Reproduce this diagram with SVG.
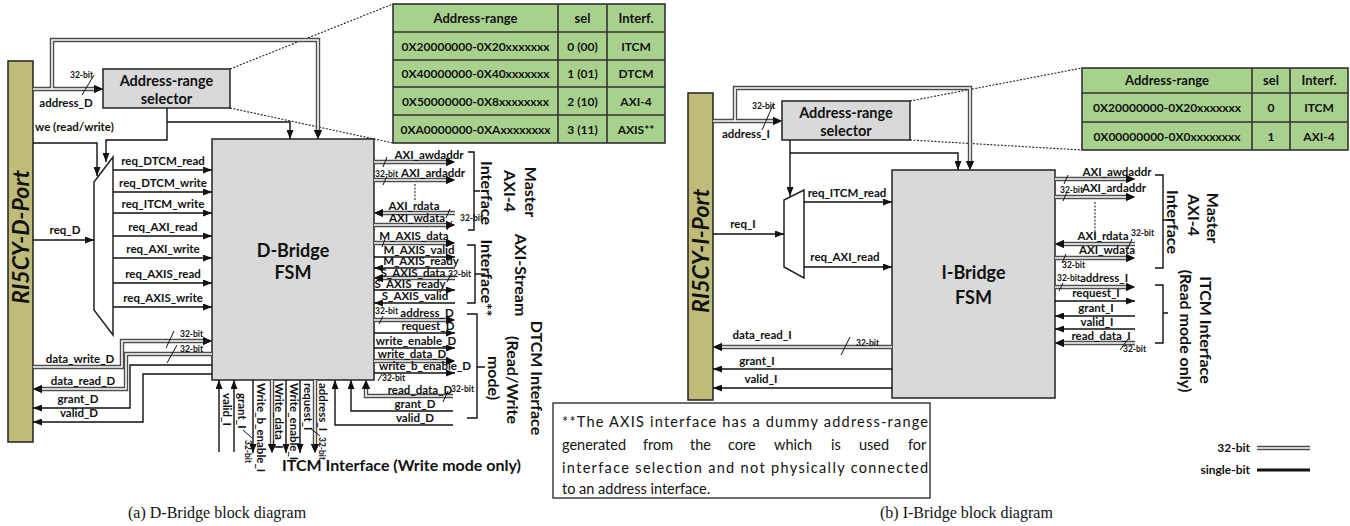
<svg xmlns="http://www.w3.org/2000/svg" width="1350" height="526" viewBox="0 0 1350 526">
<style>
  .w{fill:none;stroke:#111;stroke-width:1.4}
  .bo{fill:none;stroke:#4d4d4d;stroke-width:4.4}
  .bi{fill:none;stroke:#fff;stroke-width:1.6}
  .dot{fill:none;stroke:#222;stroke-width:1.1;stroke-dasharray:2 1.5}
  .sl{fill:none;stroke:#111;stroke-width:1}
  .box{fill:#d9d9d9;stroke:#222;stroke-width:1.5}
  .port{fill:#bebc78;stroke:#222;stroke-width:1.5}
  .mux{fill:#fff;stroke:#222;stroke-width:1.5}
  .tab{fill:#a9d18e;stroke:#333;stroke-width:1.6}
  .tl{fill:none;stroke:#333;stroke-width:1.6}
  text{font-family:Lato,"Liberation Sans",sans-serif;font-weight:700;fill:#111}
  .l{font-size:11.5px}
  .m{text-anchor:middle}
  .s{font-size:8.5px}
  .h{font-size:14.5px}
  .f{font-size:18px}
  .p{font-size:23px;font-style:italic}
  .g{font-size:16px}
  .tb{font-size:12px}
  .th{font-size:13px}
  .n{font-weight:400;font-size:14.5px}
  .c{font-family:"Liberation Serif",serif;font-weight:400;font-size:16px}
</style>
<defs>
  <marker id="a" markerUnits="userSpaceOnUse" markerWidth="9" markerHeight="7" refX="9" refY="3.5" orient="auto"><path d="M0,0 L9,3.5 L0,7 z" fill="#111"/></marker>
  <marker id="ab" markerUnits="userSpaceOnUse" markerWidth="9" markerHeight="8" refX="0" refY="4" orient="auto"><path d="M0,0 L9,4 L0,8 z" fill="#111"/></marker>
  <!-- 32-bit buses: drawn twice (dark outer, white core) to give a double line -->
  <g id="buses">
    <path d="M33,89 H94" marker-end="url(#ab)"/>
    <path d="M52,89 V40 H318 V130" marker-end="url(#ab)"/>
    <path d="M33,367 H122 V341 H203" marker-end="url(#ab)"/>
    <path d="M212,354 H126 V389 H42" marker-end="url(#ab)"/>
    <path d="M374,162 H446" marker-end="url(#ab)"/>
    <path d="M374,180 H446" marker-end="url(#ab)"/>
    <path d="M455,213 H383" marker-end="url(#ab)"/>
    <path d="M374,225 H446" marker-end="url(#ab)"/>
    <path d="M374,243 H446" marker-end="url(#ab)"/>
    <path d="M455,278 H383" marker-end="url(#ab)"/>
    <path d="M374,320 H446" marker-end="url(#ab)"/>
    <path d="M374,361 H446" marker-end="url(#ab)"/>
    <path d="M453,396 H366 V389" marker-end="url(#ab)"/>
    <path d="M272,380 V444" marker-end="url(#ab)"/>
    <path d="M315,380 V444" marker-end="url(#ab)"/>
    <path d="M713,121 H773" marker-end="url(#ab)"/>
    <path d="M735,121 V88 H970 V161" marker-end="url(#ab)"/>
    <path d="M892,347 H722" marker-end="url(#ab)"/>
    <path d="M1055,179 H1126" marker-end="url(#ab)"/>
    <path d="M1055,197 H1126" marker-end="url(#ab)"/>
    <path d="M1135,244 H1064" marker-end="url(#ab)"/>
    <path d="M1055,258 H1126" marker-end="url(#ab)"/>
    <path d="M1055,287 H1126" marker-end="url(#ab)"/>
    <path d="M1135,343 H1064" marker-end="url(#ab)"/>
    <path d="M1257,448 H1310"/>
  </g>
</defs>
<rect width="1350" height="526" fill="#fff"/>

<!-- dotted call-outs from the selectors to their tables -->
<g id="callouts">
  <path class="dot" d="M230,69 L393,4 M230,108 L393,143"/>
  <path class="dot" d="M910,101 L1082,68 M910,140 L1082,150"/>
</g>

<!-- ===== D-Bridge ===== -->
<g id="d-port">
  <rect class="port" x="8" y="61" width="25" height="381"/>
  <text class="p m" transform="translate(29,237) rotate(-90)">RI5CY-D-Port</text>
</g>
<g id="d-selector">
  <rect class="box" x="103" y="69" width="127" height="39"/>
  <text class="h m" x="166.5" y="86">Address-range</text>
  <text class="h m" x="166.5" y="104">selector</text>
</g>
<g id="d-mux">
  <polygon class="mux" points="94,182 113,157 113,335 94,310"/>
</g>
<g id="d-fsm">
  <rect class="box" x="212" y="139" width="162" height="241"/>
  <text class="f m" x="293" y="257">D-Bridge</text>
  <text class="f m" x="293" y="279">FSM</text>
</g>
<g id="d-table">
  <rect class="tab" x="393" y="4" width="272" height="139"/>
  <path class="tl" d="M393,32 H665 M393,60 H665 M393,87 H665 M393,115 H665 M558,4 V143 M607,4 V143"/>
  <text class="th m" x="475.5" y="23">Address-range</text>
  <text class="th m" x="582.5" y="23">sel</text>
  <text class="th m" x="636" y="23">Interf.</text>
  <text class="tb m" x="475.5" y="51">0X20000000-0X20xxxxxxx</text>
  <text class="tb m" x="582.5" y="51">0 (00)</text>
  <text class="tb m" x="636" y="51">ITCM</text>
  <text class="tb m" x="475.5" y="78">0X40000000-0X40xxxxxxx</text>
  <text class="tb m" x="582.5" y="78">1 (01)</text>
  <text class="tb m" x="636" y="78">DTCM</text>
  <text class="tb m" x="475.5" y="106">0X50000000-0X8xxxxxxxx</text>
  <text class="tb m" x="582.5" y="106">2 (10)</text>
  <text class="tb m" x="636" y="106">AXI-4</text>
  <text class="tb m" x="475.5" y="134">0XA0000000-0XAxxxxxxxx</text>
  <text class="tb m" x="582.5" y="134">3 (11)</text>
  <text class="tb m" x="636" y="134">AXIS**</text>
</g>

<!-- ===== I-Bridge ===== -->
<g id="i-port">
  <rect class="port" x="688" y="93" width="25" height="307"/>
  <text class="p m" transform="translate(709,251) rotate(-90)">RI5CY-I-Port</text>
</g>
<g id="i-selector">
  <rect class="box" x="782" y="101" width="128" height="39"/>
  <text class="h m" x="846" y="118">Address-range</text>
  <text class="h m" x="846" y="136">selector</text>
</g>
<g id="i-mux">
  <polygon class="mux" points="784,200 804,190 804,278 784,267"/>
</g>
<g id="i-fsm">
  <rect class="box" x="892" y="170" width="163" height="228"/>
  <text class="f m" x="973.5" y="279">I-Bridge</text>
  <text class="f m" x="973.5" y="304">FSM</text>
</g>
<g id="i-table">
  <rect class="tab" x="1082" y="68" width="266" height="82"/>
  <path class="tl" d="M1082,93 H1348 M1082,122 H1348 M1252,68 V150 M1290,68 V150"/>
  <text class="th m" x="1167" y="85">Address-range</text>
  <text class="th m" x="1271" y="85">sel</text>
  <text class="th m" x="1319" y="85">Interf.</text>
  <text class="tb m" x="1167" y="112">0X20000000-0X20xxxxxxx</text>
  <text class="tb m" x="1271" y="112">0</text>
  <text class="tb m" x="1319" y="112">ITCM</text>
  <text class="tb m" x="1167" y="141">0X00000000-0X0xxxxxxxx</text>
  <text class="tb m" x="1271" y="141">1</text>
  <text class="tb m" x="1319" y="141">AXI-4</text>
</g>

<!-- ===== connectors ===== -->
<g id="connectors">
  <use href="#buses" class="bo"/>
  <use href="#buses" class="bi"/>
  <g class="w" marker-end="url(#a)">
    <!-- D-Bridge single-bit -->
    <path d="M33,143 H97 V176"/>
    <path d="M167,108 V140 H106 V162"/>
    <path d="M167,122 H290 V139"/>
    <path d="M33,240 H94"/>
    <path d="M113,170 H212"/>
    <path d="M113,192 H212"/>
    <path d="M113,213 H212"/>
    <path d="M113,236 H212"/>
    <path d="M113,258 H212"/>
    <path d="M113,283 H212"/>
    <path d="M113,307 H212"/>
    <path d="M212,365 H130 V408 H33"/>
    <path d="M212,374 H143 V422 H33"/>
    <path d="M374,257 H455"/>
    <path d="M455,268 H374"/>
    <path d="M374,290 H455"/>
    <path d="M455,303 H374"/>
    <path d="M374,333 H455"/>
    <path d="M374,348 H455"/>
    <path d="M374,373 H455"/>
    <path d="M453,411 H351 V380"/>
    <path d="M453,425 H335 V380"/>
    <path d="M219,452 V380"/>
    <path d="M234,452 V380"/>
    <path d="M253,380 V453"/>
    <path d="M286,380 V453"/>
    <path d="M300,380 V453"/>
    <!-- I-Bridge single-bit -->
    <path d="M790,140 V196"/>
    <path d="M790,153 H958 V170"/>
    <path d="M713,234 H784"/>
    <path d="M804,202 H892"/>
    <path d="M804,267 H892"/>
    <path d="M892,369 H713"/>
    <path d="M892,388 H713"/>
    <path d="M1055,301 H1135"/>
    <path d="M1135,316 H1055"/>
    <path d="M1135,329 H1055"/>
  </g>
  <path class="dot" d="M415,184 V200 M1095,202 V238"/>
  <!-- bus width slashes -->
  <path class="sl" d="M94,75 L82,95 M174,331 L166,348 M177,345 L167,363 M387,157 L383,167 M387,176 L383,185 M450,209 L446,218 M452,221 L447,230 M385,239 L382,247 M451,274 L447,282 M383,316 L379,324 M382,374 L378,381 M448,391 L443,402 M243,430 L252,438 M310,428 L320,436"/>
  <path class="sl" d="M773,105 L762,130 M850,337 L841,355 M1068,175 L1064,184 M1067,192 L1063,201 M1132,239 L1128,248 M1066,254 L1062,263 M1063,283 L1059,291 M1128,339 L1120,350"/>
  <!-- legend sample line for single-bit -->
  <path d="M1257,470 H1310" stroke="#111" stroke-width="3"/>
</g>

<!-- brackets -->
<g id="brackets" class="w">
  <path d="M468,152 H474 V230 H468 M474,191 H480"/>
  <path d="M467,245 H475 V303 H467 M475,274 H485"/>
  <path d="M467,314 H477 V418 H467 M477,367 H485"/>
  <path d="M1155,175 H1163 V268 H1155 M1163,220 H1168"/>
  <path d="M1155,285 H1163 V343 H1155 M1163,313 H1168"/>
</g>

<!-- signal labels -->
<g id="labels">
  <text class="s" x="70" y="78">32-bit</text>
  <text class="l m" x="66" y="107">address_D</text>
  <text class="l" x="35" y="131">we (read/write)</text>
  <text class="l m" x="65" y="234">req_D</text>
  <text class="l m" x="163" y="165">req_DTCM_read</text>
  <text class="l m" x="163" y="187">req_DTCM_write</text>
  <text class="l m" x="163" y="208">req_ITCM_write</text>
  <text class="l m" x="163" y="231">req_AXI_read</text>
  <text class="l m" x="163" y="253">req_AXI_write</text>
  <text class="l m" x="163" y="278">req_AXIS_read</text>
  <text class="l m" x="163" y="302">req_AXIS_write</text>
  <text class="s" x="180" y="337">32-bit</text>
  <text class="s" x="180" y="352">32-bit</text>
  <text class="l m" x="80" y="363">data_write_D</text>
  <text class="l m" x="83" y="385">data_read_D</text>
  <text class="l m" x="78" y="403">grant_D</text>
  <text class="l m" x="79" y="417">valid_D</text>

  <text class="l m" x="429" y="159">AXI_awdaddr</text>
  <text class="s" x="375" y="177">32-bit</text>
  <text class="l m" x="433" y="177">AXI_ardaddr</text>
  <text class="l m" x="414" y="210">AXI_rdata</text>
  <text class="l m" x="417" y="222">AXI_wdata</text>
  <text class="s" x="460" y="221">32-bit</text>
  <text class="l m" x="414" y="240">M_AXIS_data</text>
  <text class="l m" x="419" y="254">M_AXIS_valid</text>
  <text class="l m" x="421" y="265">M_AXIS_ready</text>
  <text class="l m" x="413" y="277">S_AXIS_data</text>
  <text class="s" x="448" y="277">32-bit</text>
  <text class="l m" x="410" y="288">S_AXIS_ready</text>
  <text class="l m" x="415" y="300">S_AXIS_valid</text>
  <text class="s" x="375" y="314">32-bit</text>
  <text class="l m" x="427" y="317">address_D</text>
  <text class="l m" x="428" y="330">request_D</text>
  <text class="l m" x="416" y="345">write_enable_D</text>
  <text class="l m" x="412" y="358">write_data_D</text>
  <text class="l m" x="425" y="370">write_b_enable_D</text>
  <text class="s" x="382" y="381">32-bit</text>
  <text class="l m" x="420" y="394">read_data_D</text>
  <text class="s" x="451" y="392">32-bit</text>
  <text class="l m" x="415" y="408">grant_D</text>
  <text class="l m" x="415" y="422">valid_D</text>

  <text class="l" transform="translate(223,393) rotate(90)">valid_I</text>
  <text class="l" transform="translate(238,393) rotate(90)">grant_I</text>
  <text class="s" transform="translate(245,440) rotate(90)">32-bit</text>
  <text class="l" transform="translate(257,383) rotate(90)">Write_b_enable_I</text>
  <text class="l" transform="translate(275,383) rotate(90)">Write_data_I</text>
  <text class="l" transform="translate(290,383) rotate(90)">Write_enable_I</text>
  <text class="l" transform="translate(304,383) rotate(90)">request_I</text>
  <text class="l" transform="translate(319,383) rotate(90)">address_I</text>
  <text class="s" transform="translate(319,437) rotate(90)">32-bit</text>

  <text class="s" x="752" y="109">32-bit</text>
  <text class="l m" x="746" y="138">address_I</text>
  <text class="l m" x="743" y="228">req_I</text>
  <text class="l m" x="847" y="197">req_ITCM_read</text>
  <text class="l m" x="845" y="261">req_AXI_read</text>
  <text class="l m" x="762" y="339">data_read_I</text>
  <text class="s" x="856" y="346">32-bit</text>
  <text class="l m" x="757" y="365">grant_I</text>
  <text class="l m" x="761" y="383">valid_I</text>

  <text class="l m" x="1117" y="176">AXI_awdaddr</text>
  <text class="s" x="1060" y="193">32-bit</text>
  <text class="l m" x="1114" y="192">AXI_ardaddr</text>
  <text class="l m" x="1103" y="240">AXI_rdata</text>
  <text class="s" x="1131" y="236">32-bit</text>
  <text class="l m" x="1107" y="254">AXI_wdata</text>
  <text class="s" x="1062" y="268">32-bit</text>
  <text class="s" x="1057" y="281">32-bit</text>
  <text class="l" x="1080" y="282">address_I</text>
  <text class="l m" x="1096" y="297">request_I</text>
  <text class="l m" x="1096" y="312">grant_I</text>
  <text class="l m" x="1097" y="326">valid_I</text>
  <text class="l m" x="1101" y="340">read_data_I</text>
  <text class="s" x="1123" y="352">32-bit</text>
</g>

<!-- interface group titles -->
<g id="interface-titles">
  <text class="g m" transform="translate(525,192) rotate(90)">Master</text>
  <text class="g m" transform="translate(504,191) rotate(90)">AXI-4</text>
  <text class="g m" transform="translate(481,193) rotate(90)">Interface</text>
  <text class="g m" transform="translate(515,275) rotate(90)">AXI-Stream</text>
  <text class="g m" transform="translate(481,278) rotate(90)">Interface**</text>
  <text class="g m" transform="translate(531,378) rotate(90)">DTCM Interface</text>
  <text class="g m" transform="translate(507,380) rotate(90)">(Read/Write</text>
  <text class="g m" transform="translate(488,378) rotate(90)">mode)</text>
  <text class="g" x="282" y="471">ITCM Interface (Write mode only)</text>
  <text class="g m" transform="translate(1207,218) rotate(90)">Master</text>
  <text class="g m" transform="translate(1188,215) rotate(90)">AXI-4</text>
  <text class="g m" transform="translate(1167,222) rotate(90)">Interface</text>
  <text class="g m" transform="translate(1200,330) rotate(90)">ITCM Interface</text>
  <text class="g m" transform="translate(1180,331) rotate(90)">(Read mode only)</text>
</g>

<g id="note">
  <rect x="553" y="403" width="377" height="95" fill="#fff" stroke="#222" stroke-width="1.3"/>
  <text class="n" x="562" y="427" textLength="366" lengthAdjust="spacing">**The AXIS interface has a dummy address-range</text>
  <text class="n" y="450"><tspan x="562">generated</tspan><tspan x="643">from</tspan><tspan x="690">the</tspan><tspan x="728">core</tspan><tspan x="774">which</tspan><tspan x="831">is</tspan><tspan x="859">used</tspan><tspan x="908">for</tspan></text>
  <text class="n" x="562" y="473" textLength="366" lengthAdjust="spacing">interface selection and not physically connected</text>
  <text class="n" x="562" y="494">to an address interface.</text>
</g>

<g id="legend">
  <text class="tb" x="1250" y="452" text-anchor="end">32-bit</text>
  <text class="tb" x="1250" y="474" text-anchor="end">single-bit</text>
</g>

<g id="captions">
  <text class="c" x="128" y="518">(a) D-Bridge block diagram</text>
  <text class="c" x="880" y="518">(b) I-Bridge block diagram</text>
</g>
</svg>
